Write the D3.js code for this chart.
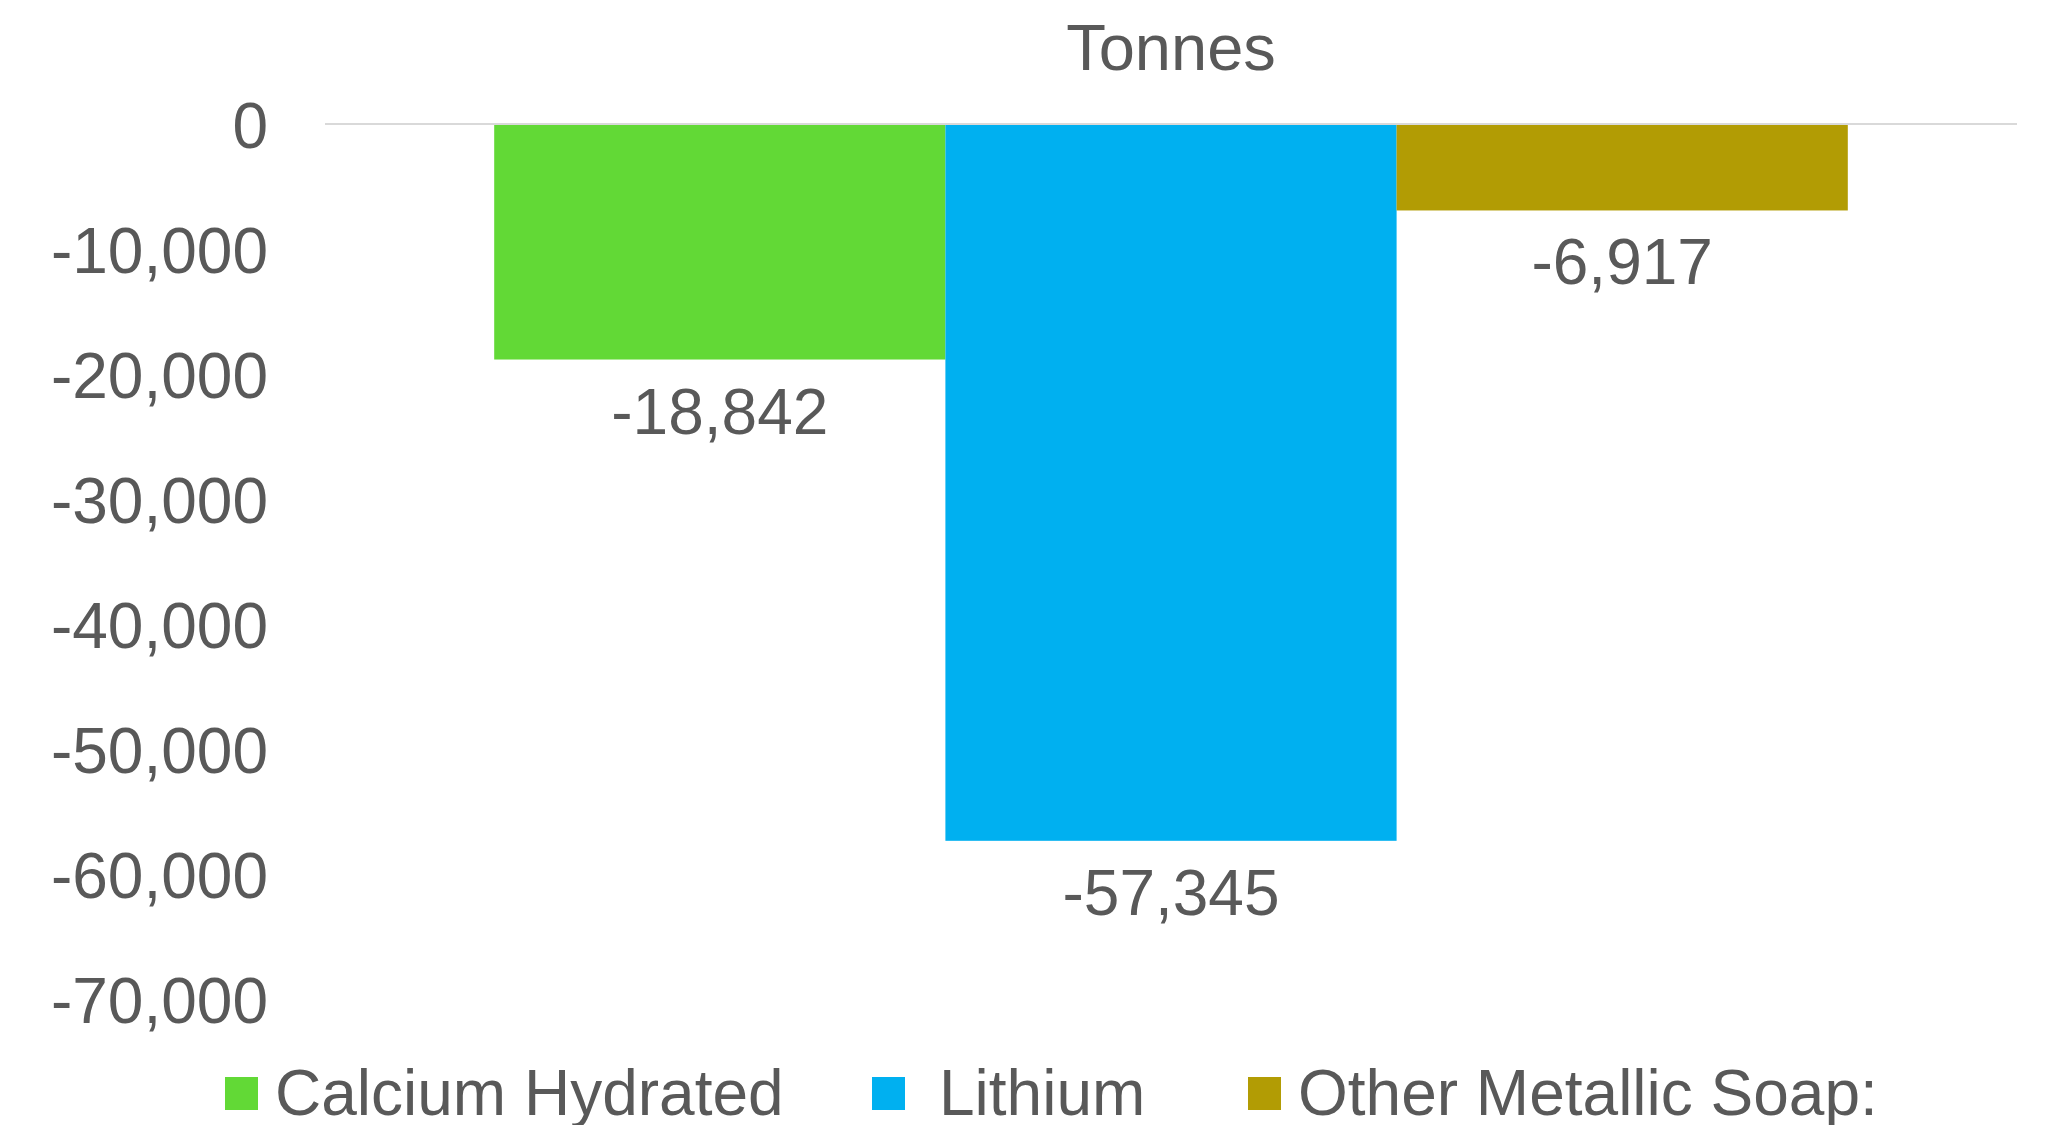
<!DOCTYPE html>
<html>
<head>
<meta charset="utf-8">
<script src="https://cdn.jsdelivr.net/npm/d3@7"></script>
<style>
  html, body { margin: 0; padding: 0; background: #ffffff; }
  svg { display: block; }
  text { font-family: "Liberation Sans", Arial, sans-serif; fill: #595959; }
</style>
</head>
<body>
<svg id="chart" width="2050" height="1125"></svg>
<script>
// ---- data ----
const categories = ["Tonnes"];
const seriesNames = ["Calcium Hydrated", "Lithium", "Other Metallic Soap:"];
const seriesValues = [-18842, -57345, -6917];
const seriesColors = ["#62D936", "#00B0F0", "#B29C04"];
const yTicks = [0, -10000, -20000, -30000, -40000, -50000, -60000, -70000];

// ---- layout ----
const plot = { left: 325, right: 2017, top: 124, bottom: 999 };
const svg = d3.select("#chart");

const x0 = d3.scaleBand().domain(categories).range([plot.left, plot.right])
  .paddingInner(0).paddingOuter(0.125);
const x1 = d3.scaleBand().domain(seriesNames).range([0, x0.bandwidth()]).padding(0);
const y = d3.scaleLinear().domain([-70000, 0]).range([plot.bottom, plot.top]);
const locale = d3.formatLocale({ decimal: ".", thousands: ",", grouping: [3], currency: ["", ""], minus: "-" });
const fmt = locale.format(",");

// title
svg.append("text")
  .attr("x", x0(categories[0]) + x0.bandwidth() / 2)
  .attr("y", 70)
  .attr("text-anchor", "middle")
  .style("font-size", "65px")
  .text("Tonnes");

// y axis labels (no line)
const yAxis = d3.axisLeft(y).tickValues(yTicks).tickFormat(fmt).tickSize(0).tickPadding(0);
const ya = svg.append("g").attr("transform", `translate(268,0)`).call(yAxis);
ya.select(".domain").remove();
ya.selectAll("text")
  .attr("x", 0)
  .attr("dy", "0.36em")
  .style("font-family", "'Liberation Sans', Arial, sans-serif")
  .style("font-size", "64px")
  .attr("fill", "#595959");

// bars
const data = seriesNames.map((s, i) => ({ cat: categories[0], name: s, value: seriesValues[i], color: seriesColors[i] }));
const g = svg.append("g");
g.selectAll("rect").data(data).join("rect")
  .attr("x", d => x0(d.cat) + x1(d.name))
  .attr("width", x1.bandwidth())
  .attr("y", d => y(Math.max(0, d.value)))
  .attr("height", d => Math.abs(y(d.value) - y(0)))
  .attr("fill", d => d.color);

// zero gridline
svg.append("line")
  .attr("x1", plot.left).attr("x2", plot.right)
  .attr("y1", y(0)).attr("y2", y(0))
  .attr("stroke", "#D9D9D9").attr("stroke-width", 2);

// data labels
g.selectAll("text.lbl").data(data).join("text")
  .attr("class", "lbl")
  .attr("x", d => x0(d.cat) + x1(d.name) + x1.bandwidth() / 2)
  .attr("y", d => y(d.value) + 74)
  .attr("text-anchor", "middle")
  .style("font-size", "64px")
  .text(d => fmt(d.value));

// legend
const legendX = [225, 872, 1248];
const leg = svg.append("g");
data.forEach((d, i) => {
  const lg = leg.append("g").attr("transform", `translate(${legendX[i]},0)`);
  lg.append("rect").attr("x", 0).attr("y", 1077).attr("width", 33).attr("height", 33).attr("fill", d.color);
  lg.append("text").attr("x", i === 1 ? 67 : 50).attr("y", 1115)
    .style("font-size", "64px").text(d.name);
});
</script>
</body>
</html>
